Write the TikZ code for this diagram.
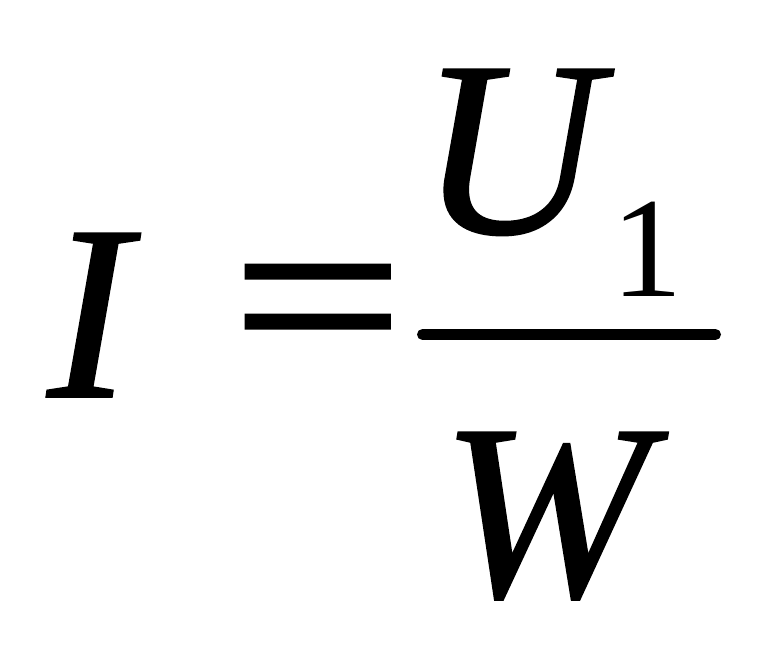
\documentclass[tikz,border=0pt]{standalone}
\usepackage{fontspec}
\usepackage{graphicx}
\setmainfont{Liberation Serif}
\newfontfamily\eqfont[FakeBold=1.4]{Liberation Serif}
\newfontfamily\letterfont[ItalicFeatures={FakeBold=0.8}]{Liberation Serif}
\usepackage{tikz}
\usetikzlibrary{positioning}
\tikzset{
 big/.style={inner sep=0pt, anchor=base, font=\fontsize{250}{250}\selectfont\letterfont\itshape},
 sub/.style={inner sep=0pt, anchor=base, font=\fontsize{143}{143}\selectfont},
 eqsign/.style={inner sep=0pt, anchor=center, font=\fontsize{250}{250}\selectfont\eqfont}
}
\begin{document}
\begin{tikzpicture}[x=1pt,y=1pt]
 \useasboundingbox (0,0) rectangle (772,647);
 %\draw [help lines] (0,0) grid [step=50] (772,647);
 \node [big] (I) at (89,250) {I};
 \node [eqsign] (eq) at (317.5,324.5) {\scalebox{1.22}[1]{=}};
 %
 \node [big] (U) at (510,414) {U};
 \node [sub] (one) at (647.5,350) {1};
 \coordinate (barL) at (422.5,312.5);
 \coordinate (barR) at (715.5,312.5);
 \draw [line width=11pt, line cap=round] (barL) -- (barR);
 \node [big] (W) at (545,51) {W};
\end{tikzpicture}
\end{document}
